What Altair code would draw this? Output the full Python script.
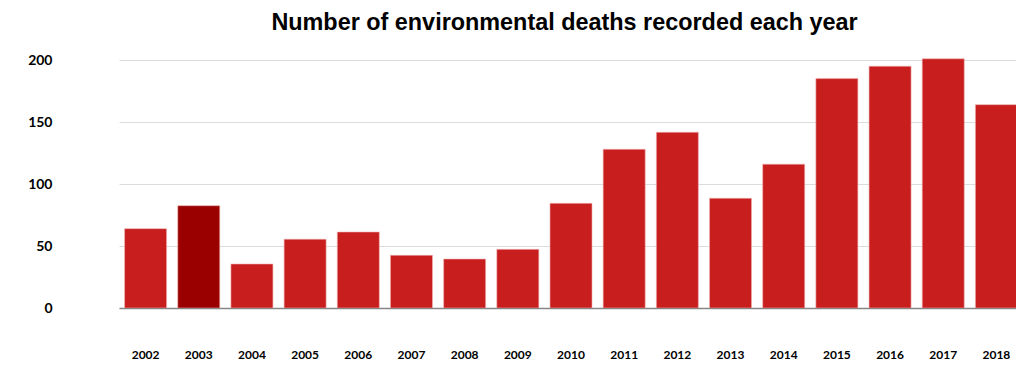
import altair as alt
import pandas as pd

years = [str(y) for y in range(2002, 2019)]
deaths = [64, 82.5, 35.5, 55.5, 61.3, 42.5, 39.5, 47.3, 84.4, 128, 141.7, 88.5, 116, 185, 195, 201, 164]
highlight = ["2003"]

df = pd.DataFrame({"year": years, "deaths": deaths})
df["hl"] = df["year"].isin(highlight)

bars = alt.Chart(df).mark_bar(clip=True, stroke="#F0B0B0", strokeWidth=0.6).encode(
    x=alt.X("year:N", sort=years,
            scale=alt.Scale(range=[0, 904], paddingInner=0.21, paddingOuter=0.105),
            axis=alt.Axis(title=None, labelAngle=0, labelFont="Lato", labelFontWeight="bold",
                          labelFontSize=12, labelColor="#000000", labelPadding=41,
                          ticks=False, domain=True, domainColor="#868686", domainWidth=1.5,
                          grid=False)),
    y=alt.Y("deaths:Q", scale=alt.Scale(domain=[0, 209.7], nice=False),
            axis=alt.Axis(title=None, values=[0, 50, 100, 150, 200], labelFont="Lato",
                          labelFontWeight="bold", labelFontSize=14, labelColor="#000000",
                          labelPadding=67, ticks=False, domain=False, grid=True,
                          gridColor="#DCDCDC", gridWidth=1)),
    color=alt.condition(alt.datum.hl, alt.value("#9A0000"), alt.value("#C81E1E")),
)

chart = bars.properties(
    width=897, height=260,
    background="#FFFFFF",
    autosize=alt.AutoSizeParams(type="none"),
    padding={"left": 111, "top": 40, "right": 0, "bottom": 63},
    title=alt.TitleParams("Number of environmental deaths recorded each year",
                          font="Liberation Sans", fontSize=23.4, fontWeight="bold",
                          color="#000000", anchor="middle", dx=-3, dy=25, offset=20,
                          baseline="alphabetic"),
).configure_view(stroke=None)

chart.save("out.html", embed_options={"renderer": "svg", "actions": False})
